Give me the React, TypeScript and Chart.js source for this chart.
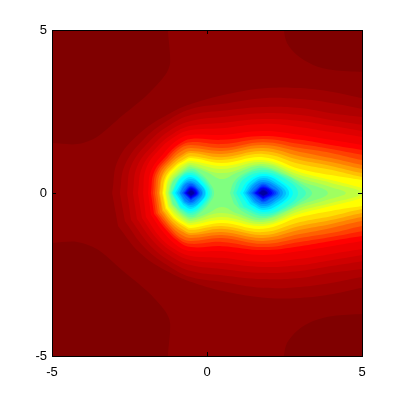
import React, { useEffect, useRef } from "react";
import { Chart, registerables } from "chart.js";

Chart.register(...registerables);

type Pt = number[];

const axisTicks = [-5, 0, 5];

const fieldRect: Pt[] = [[-6, -6], [6, -6], [6, 6], [-6, 6]];
const lowLeft: Pt[] = [[-5.5, 1.53], [-5, 1.53], [-4.19, 1.5], [-3.55, 1.72], [-2.71, 2.39], [-1.94, 3.0], [-1.35, 3.62], [-1.19, 3.99], [-1.26, 5], [-1.26, 5.5], [-5.5, 5.5]];
const lowRight: Pt[] = [[2.48, 5.5], [2.48, 5], [2.58, 4.6], [2.9, 4.23], [3.42, 3.93], [4.06, 3.77], [5, 3.71], [5.5, 3.7], [5.5, 5.5]];

const c9f: Pt[] = [[-3.06, 0], [-2.87, 1.01], [-2.16, 1.84], [-1.19, 2.45], [-0.32, 2.79], [0.84, 3.07], [1.94, 3.22], [3, 3.22], [4.06, 3.1], [5, 2.91], [5.6, 2.8]];
const caf: Pt[] = [[-2.81, 0], [-2.65, 0.86], [-2, 1.69], [-1.19, 2.27], [-0.52, 2.58], [0.48, 2.73], [1.81, 2.91], [3, 2.88], [4, 2.76], [5, 2.58], [5.6, 2.48]];
const cbf: Pt[] = [[-2.58, 0], [-2.45, 0.83], [-1.84, 1.6], [-1.19, 2.09], [-0.52, 2.39], [0.48, 2.52], [1.81, 2.64], [3, 2.61], [4, 2.45], [5, 2.33], [5.6, 2.24]];
const ccf: Pt[] = [[-2.39, 0], [-2.26, 0.8], [-1.74, 1.47], [-1.13, 1.96], [-0.52, 2.21], [0.48, 2.33], [1.81, 2.45], [3, 2.39], [4, 2.24], [5, 2.09], [5.6, 2.0]];
const cdf: Pt[] = [[-2.23, 0], [-2.1, 0.77], [-1.61, 1.41], [-1.06, 1.84], [-0.52, 2.06], [0.48, 2.15], [1.81, 2.27], [3, 2.21], [4, 2.06], [5, 1.9], [5.6, 1.8]];
const cef: Pt[] = [[-2.06, 0], [-1.97, 0.74], [-1.52, 1.35], [-1, 1.75], [-0.52, 1.93], [0.48, 1.99], [1.81, 2.12], [3, 2.02], [4, 1.87], [5, 1.72], [5.6, 1.62]];
const cRed: Pt[] = [[-1.9, 0], [-1.81, 0.67], [-1.39, 1.23], [-0.94, 1.63], [-0.52, 1.78], [0.48, 1.78], [1.81, 1.9], [3, 1.78], [4, 1.63], [5, 1.47], [5.6, 1.38]];
const cO20: Pt[] = [[-1.81, 0], [-1.71, 0.64], [-1.32, 1.13], [-0.9, 1.5], [-0.52, 1.66], [0.48, 1.63], [1.81, 1.75], [3, 1.63], [4, 1.47], [5, 1.32], [5.6, 1.24]];
const cO40: Pt[] = [[-1.74, 0], [-1.65, 0.61], [-1.26, 1.1], [-0.87, 1.44], [-0.52, 1.56], [0.48, 1.5], [1.81, 1.66], [3, 1.5], [4, 1.35], [5, 1.17], [5.6, 1.08]];
const cO60: Pt[] = [[-1.68, 0], [-1.58, 0.61], [-1.19, 1.07], [-0.84, 1.38], [-0.52, 1.47], [0.48, 1.38], [1.81, 1.56], [3, 1.38], [4, 1.23], [5, 1.01], [5.6, 0.92]];
const cO80: Pt[] = [[-1.61, 0], [-1.52, 0.58], [-1.16, 1.01], [-0.81, 1.29], [-0.52, 1.38], [0.48, 1.29], [1.81, 1.47], [3, 1.26], [4, 1.07], [5, 0.86], [5.6, 0.78]];
const cOa0: Pt[] = [[-1.55, 0], [-1.45, 0.55], [-1.13, 0.95], [-0.77, 1.2], [-0.52, 1.29], [0.48, 1.2], [1.81, 1.38], [3, 1.13], [4, 0.95], [5, 0.74], [5.6, 0.66]];
const cOc0: Pt[] = [[-1.52, 0], [-1.42, 0.52], [-1.1, 0.89], [-0.77, 1.13], [-0.52, 1.23], [0.48, 1.1], [1.81, 1.29], [3, 1.01], [4, 0.83], [5, 0.61], [5.6, 0.54]];
const cOe0: Pt[] = [[-1.45, 0], [-1.35, 0.49], [-1.06, 0.83], [-0.74, 1.04], [-0.52, 1.13], [0.48, 1.01], [1.81, 1.2], [3, 0.89], [4, 0.71], [5, 0.49], [5.6, 0.42]];
const cYel: Pt[] = [[-1.42, 0], [-1.32, 0.46], [-1.03, 0.8], [-0.74, 0.98], [-0.52, 1.07], [0.48, 0.92], [1.81, 1.1], [3, 0.74], [4, 0.55], [5, 0.4], [5.6, 0.32]];
const cG20: Pt[] = [[-1.35, 0], [-1.26, 0.43], [-1, 0.74], [-0.71, 0.92], [-0.52, 0.98], [0.48, 0.83], [1.81, 1.01], [3, 0.64], [4, 0.4], [5, 0.15], [5.32, 0]];
const cG40: Pt[] = [[-1.32, 0], [-1.23, 0.4], [-0.97, 0.67], [-0.71, 0.86], [-0.52, 0.92], [0.48, 0.74], [1.81, 0.95], [3, 0.55], [4, 0.31], [5, 0]];
const cG60: Pt[] = [[-1.26, 0], [-1.16, 0.37], [-0.94, 0.61], [-0.68, 0.8], [-0.52, 0.86], [0.48, 0.61], [1.81, 0.89], [3, 0.46], [4, 0.18], [4.48, 0]];
const cG80: Pt[] = [[-1.23, 0], [-1.13, 0.34], [-0.9, 0.58], [-0.68, 0.74], [-0.52, 0.8], [0, 0.64], [0.48, 0.43], [1, 0.64], [1.81, 0.83], [3, 0.37], [3.9, 0]];

const tA0L: Pt[] = [[-1.19, 0], [-1.1, 0.34], [-0.87, 0.55], [-0.52, 0.74], [-0.23, 0.61], [0.06, 0.34], [0.23, 0]];
const tA0R: Pt[] = [[0.74, 0], [0.87, 0.34], [1.23, 0.61], [1.81, 0.77], [2.52, 0.55], [3, 0.31], [3.39, 0]];
const tC0L: Pt[] = [[-1.16, 0], [-0.87, 0.49], [-0.52, 0.67], [-0.16, 0.49], [0.1, 0.18], [0.16, 0]];
const tC0R: Pt[] = [[0.84, 0], [1.06, 0.43], [1.81, 0.71], [2.52, 0.49], [3, 0.21], [3.19, 0]];
const tE0L: Pt[] = [[-1.13, 0], [-0.87, 0.46], [-0.52, 0.61], [-0.16, 0.4], [0.1, 0]];
const tE0R: Pt[] = [[0.94, 0], [1.19, 0.43], [1.81, 0.64], [2.52, 0.43], [2.94, 0]];
const cyanL: Pt[] = [[-1.1, 0], [-0.84, 0.43], [-0.52, 0.55], [-0.19, 0.37], [0.03, 0]];
const cyanR: Pt[] = [[1.06, 0], [1.32, 0.37], [1.81, 0.58], [2.35, 0.4], [2.77, 0]];
const bE0L: Pt[] = [[-1.03, 0], [-0.77, 0.37], [-0.52, 0.49], [-0.23, 0.31], [-0.03, 0]];
const bE0R: Pt[] = [[1.16, 0], [1.39, 0.34], [1.81, 0.52], [2.29, 0.37], [2.65, 0]];
const bC0L: Pt[] = [[-0.97, 0], [-0.77, 0.31], [-0.52, 0.43], [-0.26, 0.31], [-0.06, 0]];
const bC0R: Pt[] = [[1.23, 0], [1.45, 0.28], [1.81, 0.46], [2.23, 0.31], [2.55, 0]];
const bA0L: Pt[] = [[-0.9, 0], [-0.74, 0.28], [-0.52, 0.37], [-0.29, 0.25], [-0.13, 0]];
const bA0R: Pt[] = [[1.29, 0], [1.52, 0.28], [1.81, 0.4], [2.16, 0.28], [2.45, 0]];
const b80L: Pt[] = [[-0.87, 0], [-0.71, 0.25], [-0.52, 0.32], [-0.32, 0.21], [-0.16, 0]];
const b80R: Pt[] = [[1.35, 0], [1.58, 0.25], [1.81, 0.34], [2.1, 0.25], [2.35, 0]];
const b60L: Pt[] = [[-0.81, 0], [-0.68, 0.18], [-0.52, 0.28], [-0.35, 0.18], [-0.23, 0]];
const b60R: Pt[] = [[1.42, 0], [1.61, 0.18], [1.81, 0.29], [2.06, 0.18], [2.29, 0]];
const b40L: Pt[] = [[-0.77, 0], [-0.52, 0.23], [-0.26, 0]];
const b40R: Pt[] = [[1.48, 0], [1.65, 0.15], [1.81, 0.25], [2.03, 0.15], [2.23, 0]];
const b20L: Pt[] = [[-0.74, 0], [-0.52, 0.2], [-0.29, 0]];
const b20R: Pt[] = [[1.52, 0], [1.81, 0.21], [2.16, 0]];
const b00L: Pt[] = [[-0.71, 0], [-0.52, 0.17], [-0.32, 0]];
const b00R: Pt[] = [[1.55, 0], [1.81, 0.18], [2.1, 0]];
const nDfL: Pt[] = [[-0.68, 0], [-0.52, 0.14], [-0.35, 0]];
const nDfR: Pt[] = [[1.61, 0], [1.81, 0.15], [2.03, 0]];
const nBfL: Pt[] = [[-0.65, 0], [-0.52, 0.11], [-0.39, 0]];
const nBfR: Pt[] = [[1.65, 0], [1.81, 0.11], [1.97, 0]];
const n9fL: Pt[] = [[-0.61, 0], [-0.52, 0.08], [-0.42, 0]];
const n9fR: Pt[] = [[1.68, 0], [1.81, 0.08], [1.94, 0]];

const bandList: [string, Pt[]][] = [
  ["#9f0000", c9f], ["#af0000", caf], ["#bf0000", cbf], ["#cf0000", ccf], ["#df0000", cdf], ["#ef0000", cef], ["#ff0000", cRed],
  ["#ff2000", cO20], ["#ff4000", cO40], ["#ff6000", cO60], ["#ff8000", cO80], ["#ffa000", cOa0], ["#ffc000", cOc0], ["#ffe000", cOe0], ["#ffff00", cYel],
  ["#e0ff20", cG20], ["#c0ff40", cG40], ["#a0ff60", cG60], ["#80ff80", cG80],
  ["#60ffa0", tA0L], ["#60ffa0", tA0R], ["#40ffc0", tC0L], ["#40ffc0", tC0R], ["#20ffe0", tE0L], ["#20ffe0", tE0R], ["#00ffff", cyanL], ["#00ffff", cyanR],
  ["#00e0ff", bE0L], ["#00e0ff", bE0R], ["#00c0ff", bC0L], ["#00c0ff", bC0R], ["#00a0ff", bA0L], ["#00a0ff", bA0R], ["#0080ff", b80L], ["#0080ff", b80R],
  ["#0060ff", b60L], ["#0060ff", b60R], ["#0040ff", b40L], ["#0040ff", b40R], ["#0020ff", b20L], ["#0020ff", b20R], ["#0000ff", b00L], ["#0000ff", b00R],
  ["#0000df", nDfL], ["#0000df", nDfR], ["#0000bf", nBfL], ["#0000bf", nBfR], ["#00009f", n9fL], ["#00009f", n9fR],
];

const toXY = (p: Pt[]) => p.map(([x, y]) => ({ x, y }));
const mirrored = (upper: Pt[]) => {
  const lower = upper.filter(([, y]) => y !== 0).map(([x, y]) => [x, -y]).reverse();
  return [...upper, ...lower];
};
const flipped = (p: Pt[]) => p.map(([x, y]) => [x, -y]);

const shape = (color: string, pts: Pt[], tension: number) => ({
  data: toXY(pts),
  showLine: true,
  fill: "shape",
  backgroundColor: color,
  borderColor: color,
  borderWidth: 0,
  pointRadius: 0,
  tension,
  capBezierPoints: false,
});

const axis = (position: string, pad: number, showLabels: boolean, size: number, vertical: boolean) => ({
  type: "linear",
  position,
  min: -5,
  max: 5,
  afterFit: (s: any) => {
    if (vertical) s.width = size;
    else s.height = size;
  },
  afterBuildTicks: (s: any) => {
    s.ticks = axisTicks.map((value) => ({ value }));
  },
  border: { display: true, color: "#000", width: 1, z: 2 },
  grid: { drawOnChartArea: false, drawTicks: true, tickLength: -4, tickColor: "#000", tickWidth: 1, z: 1 },
  ticks: {
    display: showLabels,
    padding: pad,
    color: "#000",
    maxRotation: 0,
    autoSkip: false,
    font: { family: "'Liberation Sans'", size: 13 },
  },
});

export default function App() {
  const ref = useRef<HTMLCanvasElement | null>(null);
  useEffect(() => {
    const datasets: any[] = [
      shape("#8f0000", fieldRect, 0),
      shape("#800000", lowLeft, 0.3),
      shape("#800000", flipped(lowLeft), 0.3),
      shape("#800000", lowRight, 0.3),
      shape("#800000", flipped(lowRight), 0.3),
      ...bandList.map(([color, upper]) => shape(color, mirrored(upper), 0.4)),
    ].reverse();
    const chart = new Chart(ref.current as HTMLCanvasElement, {
      type: "scatter",
      data: { datasets },
      options: {
        animation: false,
        responsive: false,
        layout: { padding: 0 },
        plugins: { legend: { display: false }, tooltip: { enabled: false } },
        scales: {
          x: axis("bottom", 13, true, 44, false),
          y: axis("left", 9, true, 52, true),
          x2: axis("top", 0, false, 30, false),
          y2: axis("right", 0, false, 38, true),
        },
      } as any,
    });
    return () => chart.destroy();
  }, []);
  return (
    <div style={{ position: "fixed", left: 0, top: 0, width: 400, height: 400, background: "#fff" }}>
      <canvas ref={ref} width={400} height={400} style={{ display: "block" }} />
    </div>
  );
}
